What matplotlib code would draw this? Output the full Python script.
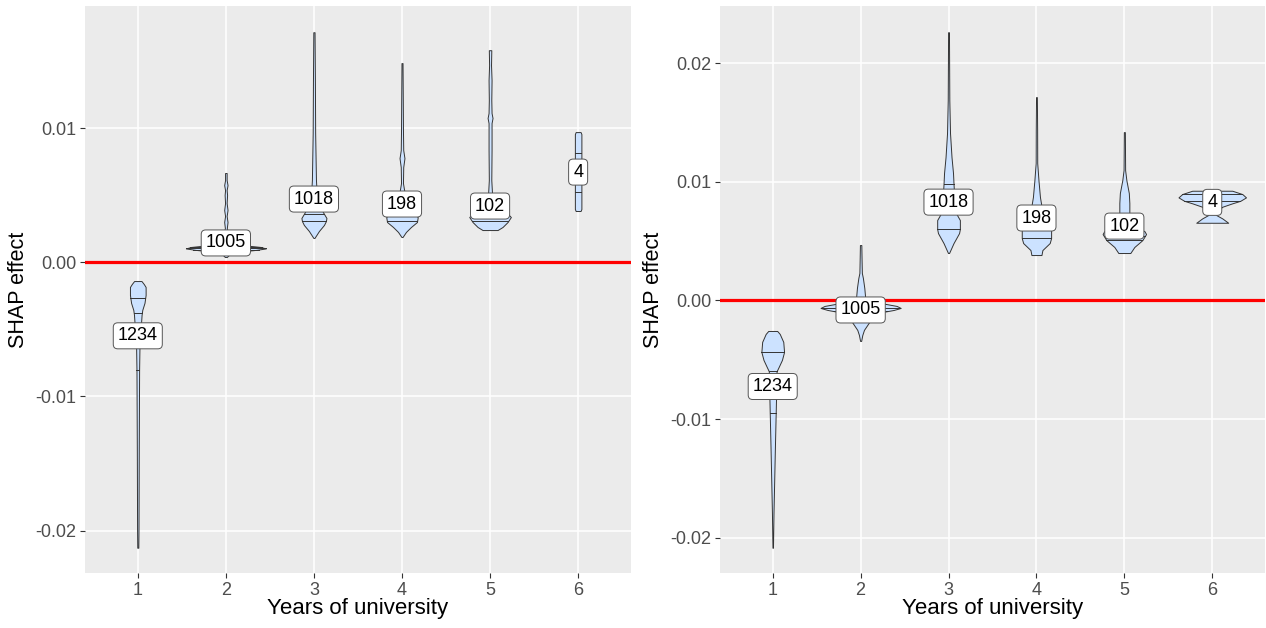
import numpy as np
import matplotlib
matplotlib.use("Agg")
import matplotlib.pyplot as plt
from matplotlib.ticker import FormatStrFormatter

plt.rcParams['font.family'] = ['Liberation Sans', 'DejaVu Sans']

years = [1, 2, 3, 4, 5, 6]
counts = [1234, 1005, 1018, 198, 102, 4]

# ---- left model: violin outlines (SHAP value, half width) from bottom to top ----
left_prof_y = [
    [-0.02127, -0.01993, -0.01397, -0.00802, -0.00631, -0.00541, -0.00452, -0.00393,
     -0.00355, -0.00303, -0.00244, -0.00184, -0.00162, -0.00140],
    [0.00039, 0.00062, 0.00077, 0.00092, 0.00103, 0.00114, 0.00129, 0.00151, 0.00203,
     0.00255, 0.00300, 0.00345, 0.00389, 0.00441, 0.00501, 0.00538, 0.00575, 0.00612, 0.00665],
    [0.00181, 0.00233, 0.00278, 0.00307, 0.00330, 0.00374, 0.00464, 0.00553, 0.00613,
     0.00963, 0.01357, 0.01714],
    [0.00188, 0.00226, 0.00263, 0.00300, 0.00337, 0.00374, 0.00434, 0.00523, 0.00590,
     0.00709, 0.00776, 0.00836, 0.00985, 0.01208, 0.01484],
    [0.00240, 0.00263, 0.00300, 0.00337, 0.00360, 0.00419, 0.00501, 0.00613, 0.00836,
     0.01037, 0.01075, 0.01112, 0.01209, 0.01357, 0.01469, 0.01580],
    [0.00382, 0.00397, 0.00955, 0.00970],
]
left_prof_w = [
    [0.006, 0.008, 0.011, 0.015, 0.019, 0.028, 0.037, 0.043, 0.051, 0.076, 0.089, 0.089, 0.068, 0.042],
    [0.011, 0.045, 0.114, 0.341, 0.454, 0.397, 0.170, 0.057, 0.028, 0.011, 0.019, 0.009, 0.019,
     0.009, 0.014, 0.009, 0.019, 0.009, 0.009],
    [0.006, 0.057, 0.114, 0.136, 0.142, 0.102, 0.045, 0.028, 0.023, 0.014, 0.011, 0.007],
    [0.006, 0.045, 0.102, 0.170, 0.179, 0.114, 0.057, 0.028, 0.011, 0.014, 0.028, 0.014, 0.011,
     0.009, 0.006],
    [0.085, 0.142, 0.199, 0.236, 0.204, 0.057, 0.023, 0.014, 0.017, 0.017, 0.028, 0.017, 0.014,
     0.017, 0.011, 0.014],
    [0.028, 0.037, 0.037, 0.028],
]
left_quantiles = [
    [-0.00802, -0.00377, -0.00266],
    [0.00095, 0.00103, 0.00112],
    [0.00307, 0.00360, 0.00430],
    [0.00307, 0.00350, 0.00420],
    [0.00307, 0.00350, 0.00400],
    [0.00523, 0.00672, 0.00814],
]
left_means = [-0.00548, 0.00144, 0.00471, 0.00434, 0.00419, 0.00672]

# ---- right model ----
right_prof_y = [
    [-0.02084, -0.01789, -0.01512, -0.01234, -0.00947, -0.00813, -0.00720, -0.00619,
     -0.00594, -0.00560, -0.00501, -0.00434, -0.00349, -0.00282, -0.00257],
    [-0.00341, -0.00291, -0.00248, -0.00206, -0.00164, -0.00114, -0.00097, -0.00080,
     -0.00063, -0.00046, -0.00029, -0.00004, 0.00029, 0.00105, 0.00189, 0.00232,
     0.00341, 0.00467],
    [0.00400, 0.00484, 0.00568, 0.00602, 0.00678, 0.00728, 0.00829, 0.00981, 0.01074,
     0.01208, 0.01411, 0.01688, 0.02261],
    [0.00383, 0.00425, 0.00484, 0.00526, 0.00594, 0.00627, 0.00695, 0.00796, 0.00872,
     0.01015, 0.01158, 0.01436, 0.01714],
    [0.00400, 0.00451, 0.00509, 0.00560, 0.00585, 0.00627, 0.00720, 0.00821, 0.00905,
     0.01015, 0.01099, 0.01419],
    [0.00655, 0.00692, 0.00720, 0.00754, 0.00790, 0.00819, 0.00840, 0.00869, 0.00897, 0.00925],
]
right_prof_w = [
    [0.003, 0.009, 0.017, 0.025, 0.034, 0.038, 0.039, 0.040, 0.046, 0.068, 0.105, 0.129,
     0.120, 0.080, 0.051],
    [0.006, 0.019, 0.038, 0.076, 0.114, 0.137, 0.251, 0.376, 0.456, 0.410, 0.285, 0.091,
     0.051, 0.042, 0.026, 0.014, 0.011, 0.008],
    [0.006, 0.057, 0.120, 0.129, 0.129, 0.091, 0.068, 0.057, 0.051, 0.034, 0.017, 0.009, 0.005],
    [0.057, 0.068, 0.151, 0.167, 0.167, 0.091, 0.057, 0.057, 0.040, 0.023, 0.009, 0.008, 0.005],
    [0.068, 0.114, 0.205, 0.247, 0.228, 0.091, 0.057, 0.057, 0.051, 0.023, 0.009, 0.006],
    [0.182, 0.114, 0.046, 0.057, 0.114, 0.228, 0.319, 0.384, 0.342, 0.228],
]
right_quantiles = [
    [-0.00947, -0.00594, -0.00434],
    [-0.00090, -0.00060, -0.00030],
    [0.00602, 0.00750, 0.00981],
    [0.00526, 0.00594, 0.00720],
    [0.00509, 0.00545, 0.00650],
    [0.00790, 0.00840, 0.00897],
]
right_means = [-0.00725, -0.00080, 0.00829, 0.00695, 0.00627, 0.00827]

left_ticks = [-0.02, -0.01, 0.00, 0.01]
right_ticks = [-0.02, -0.01, 0.00, 0.01, 0.02]

FILL = '#CCE2FF'
EDGE = '#333333'


def draw_panel(ax, prof_y, prof_w, quants, means, yticks):
    ax.set_facecolor('#EBEBEB')
    for s in ax.spines.values():
        s.set_visible(False)

    for i, x in enumerate(years):
        y = np.array(prof_y[i])
        w = np.array(prof_w[i])
        ax.fill_betweenx(y, x - w, x + w, facecolor=FILL, edgecolor=EDGE,
                         linewidth=0.7, zorder=3)
        for q in quants[i]:
            hw = np.interp(q, y, w)
            ax.plot([x - hw, x + hw], [q, q], color=EDGE, lw=0.7, zorder=3.5)
        ax.text(x, means[i], str(counts[i]), ha='center', va='center', fontsize=13,
                zorder=5,
                bbox=dict(boxstyle='round,pad=0.25,rounding_size=0.25', fc='white',
                          ec='#555555', lw=0.7))

    ax.axhline(0, color='red', lw=2.3, zorder=4)

    # ggplot-style limits: 5% padding around the data range
    ymin = min(min(v) for v in prof_y)
    ymax = max(max(v) for v in prof_y)
    pad = 0.05 * (ymax - ymin)
    ax.set_ylim(ymin - pad, ymax + pad)
    ax.set_xlim(0.4, 6.6)

    ax.set_xticks(years)
    ax.set_yticks(yticks)
    ax.yaxis.set_major_formatter(FormatStrFormatter('%.2f'))
    ax.grid(True, color='white', lw=1.1, zorder=0)
    ax.set_axisbelow(True)
    ax.tick_params(length=3.5, width=0.8, color='#333333', labelsize=13,
                   labelcolor='#4D4D4D', pad=2.5)

    ax.set_xlabel('Years of university', fontsize=16)
    ax.set_ylabel('SHAP effect', fontsize=15.5)
    ax.xaxis.set_label_coords(0.5, -0.043)
    ax.yaxis.set_label_coords(-0.102, 0.5)


fig = plt.figure(figsize=(12.66, 6.28), dpi=100)
ax1 = fig.add_axes([0.0671, 0.0868, 0.4313, 0.9029])
ax2 = fig.add_axes([0.5687, 0.0868, 0.4305, 0.9029])

draw_panel(ax1, left_prof_y, left_prof_w, left_quantiles, left_means, left_ticks)
draw_panel(ax2, right_prof_y, right_prof_w, right_quantiles, right_means, right_ticks)

fig.savefig('out.png', dpi=100)
